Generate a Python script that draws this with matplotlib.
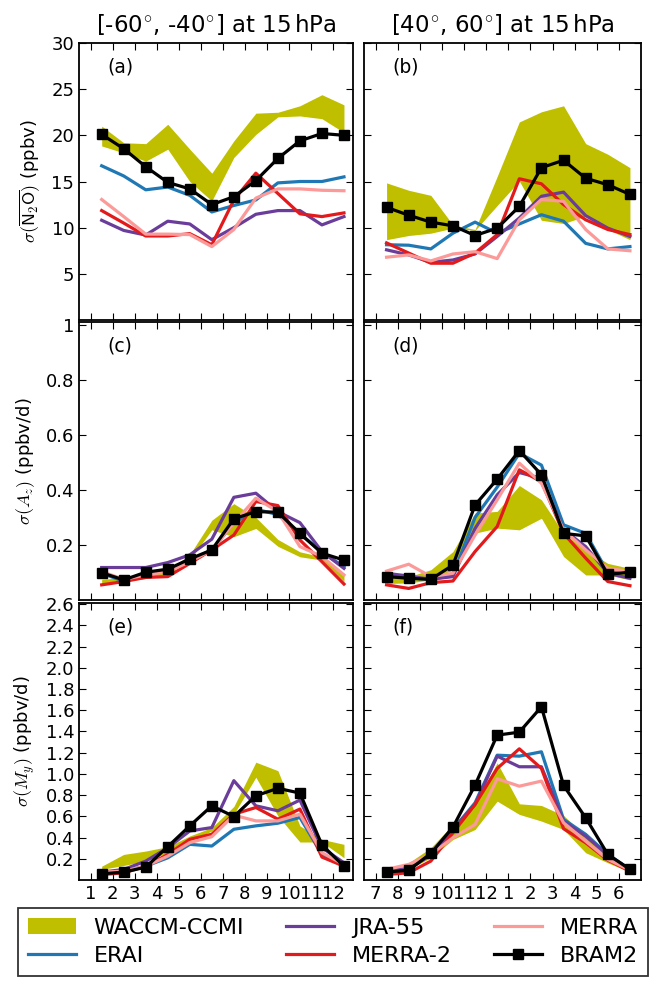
import numpy as np
import matplotlib.pyplot as plt

plt.rcParams['mathtext.fontset'] = 'cm'
plt.rcParams['xtick.direction'] = 'in'
plt.rcParams['ytick.direction'] = 'in'
plt.rcParams['xtick.top'] = True
plt.rcParams['ytick.right'] = True
plt.rcParams['xtick.major.size'] = 5
plt.rcParams['ytick.major.size'] = 5
plt.rcParams['axes.linewidth'] = 1.3

# month labels
months_sh = ['1', '2', '3', '4', '5', '6', '7', '8', '9', '10', '11', '12']
months_nh = ['7', '8', '9', '10', '11', '12', '1', '2', '3', '4', '5', '6']

# (a) sigma(N2O), SH
a_waccm_lo = [18.85, 18.1, 17.2, 18.5, 15.0, 12.9, 17.6, 20.1, 22.0, 22.1, 21.8, 20.3]
a_waccm_hi = [21.0, 19.2, 19.1, 21.2, 18.5, 15.9, 19.4, 22.4, 22.5, 23.2, 24.4, 23.3]
a_erai = [16.7, 15.6, 14.1, 14.4, 13.5, 11.7, 12.4, 13.0, 14.85, 15.0, 15.0, 15.5]
a_jra = [10.8, 9.7, 9.2, 10.7, 10.4, 8.7, 10.0, 11.45, 11.85, 11.85, 10.3, 11.2]
a_merra2 = [11.85, 10.5, 9.1, 9.1, 9.35, 8.15, 13.0, 15.9, 13.7, 11.5, 11.2, 11.6]
a_merra = [13.05, 11.2, 9.3, 9.3, 9.25, 7.95, 9.8, 13.2, 14.2, 14.2, 14.05, 14.0]
a_bram2 = [20.1, 18.55, 16.6, 14.9, 14.2, 12.5, 13.35, 15.1, 17.5, 19.4, 20.2, 20.0]

# (b) sigma(N2O), NH
b_waccm_lo = [8.7, 9.15, 9.4, 9.95, 9.7, 12.4, 15.05, 10.8, 10.45, 11.25, 9.8, 8.7]
b_waccm_hi = [14.85, 14.05, 13.5, 10.3, 9.8, 15.55, 21.45, 22.55, 23.2, 19.1, 17.95, 16.5]
b_erai = [8.15, 8.1, 7.7, 9.4, 10.6, 9.4, 10.4, 11.4, 10.7, 8.3, 7.7, 7.95]
b_jra = [7.6, 7.05, 6.25, 6.5, 7.15, 9.05, 11.05, 13.4, 13.85, 11.3, 9.95, 9.05]
b_merra2 = [8.35, 7.25, 6.15, 6.15, 7.25, 9.25, 15.3, 14.75, 12.5, 10.85, 9.8, 9.25]
b_merra = [6.8, 7.05, 6.4, 7.15, 7.4, 6.65, 10.85, 13.05, 12.85, 9.8, 7.7, 7.5]
b_bram2 = [12.2, 11.35, 10.6, 10.2, 9.15, 9.95, 12.3, 16.5, 17.3, 15.35, 14.65, 13.6]

# (c) sigma(Az), SH
c_waccm_lo = [0.055, 0.068, 0.078, 0.093, 0.145, 0.255, 0.23, 0.26, 0.195, 0.157, 0.145, 0.067]
c_waccm_hi = [0.075, 0.082, 0.092, 0.108, 0.165, 0.29, 0.35, 0.30, 0.22, 0.175, 0.157, 0.097]
c_erai = [0.097, 0.068, 0.097, 0.105, 0.143, 0.182, 0.28, 0.33, 0.31, 0.24, 0.175, 0.12]
c_jra = [0.118, 0.118, 0.118, 0.136, 0.164, 0.221, 0.373, 0.388, 0.321, 0.281, 0.176, 0.115]
c_merra2 = [0.055, 0.067, 0.082, 0.085, 0.133, 0.182, 0.236, 0.358, 0.343, 0.218, 0.139, 0.058]
c_merra = [0.103, 0.075, 0.091, 0.103, 0.139, 0.182, 0.279, 0.37, 0.321, 0.194, 0.158, 0.091]
c_bram2 = [0.099, 0.073, 0.101, 0.112, 0.149, 0.182, 0.295, 0.321, 0.319, 0.242, 0.170, 0.145]

# (d) sigma(Az), NH
d_waccm_lo = [0.06, 0.062, 0.073, 0.11, 0.243, 0.261, 0.255, 0.297, 0.158, 0.091, 0.091, 0.073]
d_waccm_hi = [0.085, 0.085, 0.11, 0.176, 0.316, 0.322, 0.416, 0.364, 0.242, 0.182, 0.133, 0.115]
d_erai = [0.09, 0.08, 0.075, 0.09, 0.30, 0.41, 0.533, 0.49, 0.273, 0.242, 0.1, 0.1]
d_jra = [0.097, 0.087, 0.075, 0.085, 0.26, 0.382, 0.463, 0.442, 0.255, 0.194, 0.097, 0.079]
d_merra2 = [0.055, 0.042, 0.063, 0.069, 0.176, 0.267, 0.473, 0.43, 0.242, 0.152, 0.067, 0.052]
d_merra = [0.105, 0.13, 0.085, 0.097, 0.236, 0.364, 0.497, 0.424, 0.255, 0.182, 0.115, 0.103]
d_bram2 = [0.085, 0.079, 0.075, 0.127, 0.345, 0.439, 0.543, 0.455, 0.242, 0.233, 0.093, 0.101]

# (e) sigma(My), SH
e_waccm_lo = [0.1, 0.137, 0.178, 0.257, 0.367, 0.462, 0.62, 0.968, 0.604, 0.358, 0.358, 0.21]
e_waccm_hi = [0.13, 0.241, 0.273, 0.314, 0.415, 0.494, 0.693, 1.11, 1.03, 0.51, 0.383, 0.336]
e_erai = [0.067, 0.083, 0.13, 0.209, 0.336, 0.32, 0.478, 0.51, 0.535, 0.589, 0.24, 0.146]
e_jra = [0.074, 0.099, 0.178, 0.304, 0.462, 0.494, 0.936, 0.699, 0.652, 0.753, 0.304, 0.162]
e_merra2 = [0.051, 0.067, 0.13, 0.241, 0.383, 0.431, 0.62, 0.683, 0.573, 0.668, 0.216, 0.13]
e_merra = [0.074, 0.083, 0.13, 0.225, 0.352, 0.408, 0.611, 0.557, 0.557, 0.62, 0.257, 0.146]
e_bram2 = [0.058, 0.074, 0.121, 0.314, 0.51, 0.699, 0.598, 0.794, 0.864, 0.819, 0.33, 0.13]

# (f) sigma(My), NH
f_waccm_lo = [0.052, 0.1, 0.209, 0.382, 0.476, 0.743, 0.618, 0.555, 0.476, 0.257, 0.162, 0.074]
f_waccm_hi = [0.084, 0.162, 0.304, 0.523, 0.727, 1.104, 0.718, 0.702, 0.608, 0.413, 0.225, 0.115]
f_erai = [0.084, 0.1, 0.241, 0.476, 0.727, 1.176, 1.167, 1.208, 0.571, 0.43, 0.241, 0.1]
f_jra = [0.084, 0.106, 0.235, 0.476, 0.712, 1.167, 1.067, 1.067, 0.555, 0.413, 0.235, 0.1]
f_merra2 = [0.052, 0.068, 0.178, 0.445, 0.712, 1.051, 1.236, 1.051, 0.483, 0.351, 0.187, 0.084]
f_merra = [0.1, 0.147, 0.241, 0.398, 0.523, 0.954, 0.884, 0.932, 0.539, 0.366, 0.194, 0.093]
f_bram2 = [0.074, 0.093, 0.25, 0.498, 0.894, 1.365, 1.393, 1.632, 0.891, 0.586, 0.241, 0.1]

c_waccm = (0.75, 0.75, 0.0)
c_erai_col = '#1f78b4'
c_jra_col = '#6a3d9a'
c_merra2_col = '#e31a1c'
c_merra_col = '#fb9a99'

ticks = np.arange(1, 13)
xs = ticks + 0.5

W, H = 649, 981
fig = plt.figure(figsize=(W / 100, H / 100), dpi=100)

rows = [(43, 320), (322, 600), (603, 880)]
cols = [(79, 353), (364, 641)]


def panel(ax, lo, hi, erai, jra, merra2, merra, bram2):
    ax.fill_between(xs, lo, hi, color=c_waccm, lw=0, label='WACCM-CCMI')
    ax.plot(xs, erai, color=c_erai_col, lw=2.3, label='ERAI')
    ax.plot(xs, jra, color=c_jra_col, lw=2.3, label='JRA-55')
    ax.plot(xs, merra2, color=c_merra2_col, lw=2.3, label='MERRA-2')
    ax.plot(xs, merra, color=c_merra_col, lw=2.3, label='MERRA')
    ax.plot(xs, bram2, color='k', lw=2.3, marker='s', ms=6.5, label='BRAM2')
    ax.set_xticks(ticks)


data = [
    [(a_waccm_lo, a_waccm_hi, a_erai, a_jra, a_merra2, a_merra, a_bram2),
     (b_waccm_lo, b_waccm_hi, b_erai, b_jra, b_merra2, b_merra, b_bram2)],
    [(c_waccm_lo, c_waccm_hi, c_erai, c_jra, c_merra2, c_merra, c_bram2),
     (d_waccm_lo, d_waccm_hi, d_erai, d_jra, d_merra2, d_merra, d_bram2)],
    [(e_waccm_lo, e_waccm_hi, e_erai, e_jra, e_merra2, e_merra, e_bram2),
     (f_waccm_lo, f_waccm_hi, f_erai, f_jra, f_merra2, f_merra, f_bram2)],
]
letters = [['(a)', '(b)'], ['(c)', '(d)'], ['(e)', '(f)']]
ylims = [(0, 30), (0, 1.01), (0, 2.61)]
yticks = [[5, 10, 15, 20, 25, 30], [0.2, 0.4, 0.6, 0.8, 1.0],
          [0.2, 0.4, 0.6, 0.8, 1.0, 1.2, 1.4, 1.6, 1.8, 2.0, 2.2, 2.4, 2.6]]
yticklabels = [['5', '10', '15', '20', '25', '30'], ['0.2', '0.4', '0.6', '0.8', '1'],
               ['%.1f' % v for v in yticks[2]]]
ylabels = [r'$\sigma(\overline{\mathsf{N_2O}})$ (ppbv)',
           r'$\sigma(A_z)$ (ppbv/d)',
           r'$\sigma(M_y)$ (ppbv/d)']
xlims = [(0.47, 12.91), (0.48, 13.0)]
titles = [r'[-60$^{\circ}$, -40$^{\circ}$] at 15$\,$hPa', r'[40$^{\circ}$, 60$^{\circ}$] at 15$\,$hPa']

axes = []
for i, (yt, yb) in enumerate(rows):
    for j, (xl, xr) in enumerate(cols):
        ax = fig.add_axes([xl / W, 1 - yb / H, (xr - xl) / W, (yb - yt) / H])
        panel(ax, *data[i][j])
        ax.set_xlim(*xlims[j])
        ax.set_ylim(*ylims[i])
        ax.set_yticks(yticks[i])
        ax.tick_params(labelsize=13)
        if j == 0:
            ax.set_yticklabels(yticklabels[i])
            ax.set_ylabel(ylabels[i], fontsize=13, labelpad=6)
        else:
            ax.set_yticklabels([])
        if i == 2:
            ax.set_xticklabels(months_sh if j == 0 else months_nh)
        else:
            ax.set_xticklabels([])
        if i == 0:
            ax.set_title(titles[j], fontsize=16.5, pad=8)
        ax.text(0.103, 0.913, letters[i][j], transform=ax.transAxes,
                fontsize=13.5, ha='left', va='center')
        axes.append(ax)

handles, labels = axes[0].get_legend_handles_labels()
leg = fig.legend(handles, labels, loc='upper left', bbox_to_anchor=(18 / W, 1 - 908 / H),
                 ncol=3, fontsize=16, frameon=True, fancybox=False, handlelength=2.15,
                 handletextpad=0.8, columnspacing=1.9, labelspacing=0.35,
                 borderpad=0.45, borderaxespad=0)
leg.get_frame().set_edgecolor('k')
leg.get_frame().set_linewidth(1.3)

fig.savefig('out.png', dpi=100)
